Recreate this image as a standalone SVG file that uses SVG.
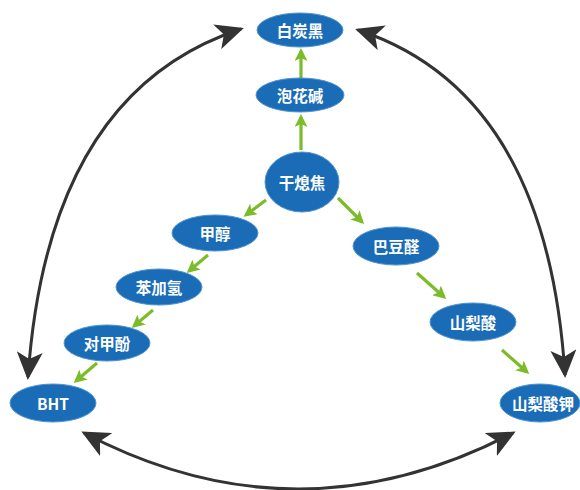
<svg xmlns="http://www.w3.org/2000/svg" width="580" height="490" viewBox="0 0 580 490">
<style>
.node ellipse{fill:#1a6cb6;stroke:#4f94d2;stroke-width:1}
.node text{fill:#fff;font-family:"Noto Sans CJK SC","Liberation Sans",sans-serif;font-size:15.5px;font-weight:bold;text-anchor:middle;dominant-baseline:central}
.g{stroke:#7cbb2a;stroke-width:3.2;fill:none;marker-end:url(#ga)}
.b{stroke:#333;stroke-width:3;fill:none;marker-start:url(#ba);marker-end:url(#ba)}
</style>
<defs>
<marker id="ga" viewBox="0 0 13 13" refX="10" refY="6.5" markerWidth="13" markerHeight="13" markerUnits="userSpaceOnUse" orient="auto">
<path d="M0,0 L13,6.5 L0,13 L3,6.5 z" fill="#7cbb2a"/>
</marker>
<marker id="ba" viewBox="0 0 28 26" refX="25" refY="13" markerWidth="28" markerHeight="26" markerUnits="userSpaceOnUse" orient="auto-start-reverse">
<path d="M0,0 L28,13 L0,26 L7,13 z" fill="#333"/>
</marker>
</defs>
<g id="connectors">
<path class="b" d="M28,377 Q48,92 241,29"/>
<path class="b" d="M358,30 Q547,92 565,375"/>
<path class="b" d="M84,433 Q298,545 513,433"/>
<path class="g" d="M301,150 L301,117"/>
<path class="g" d="M301,78 L301,51"/>
<path class="g" d="M266,200 L246,215"/>
<path class="g" d="M208,255 L189,271"/>
<path class="g" d="M153,310 L134,326"/>
<path class="g" d="M97,363 L76,381"/>
<path class="g" d="M338,198 L362,222"/>
<path class="g" d="M417,273 L444,297"/>
<path class="g" d="M502,350 L527,372"/>
</g>
<g id="n-baitanhei" class="node"><ellipse cx="300" cy="30" rx="43" ry="17"/><text x="300" y="30">白炭黑</text></g>
<g id="n-paohuajian" class="node"><ellipse cx="300" cy="95" rx="44" ry="17"/><text x="300" y="95">泡花碱</text></g>
<g id="n-ganxijiao" class="node"><ellipse cx="302" cy="182" rx="37" ry="30"/><text x="302" y="182">干熄焦</text></g>
<g id="n-jiachun" class="node"><ellipse cx="215" cy="233" rx="43" ry="18"/><text x="215" y="233">甲醇</text></g>
<g id="n-benjiaqing" class="node"><ellipse cx="159" cy="287" rx="43" ry="18"/><text x="159" y="287">苯加氢</text></g>
<g id="n-duijiafen" class="node"><ellipse cx="107" cy="343" rx="43" ry="18"/><text x="107" y="343">对甲酚</text></g>
<g id="n-bht" class="node"><ellipse cx="53" cy="403" rx="43" ry="19"/><text x="53" y="403">BHT</text></g>
<g id="n-badouquan" class="node"><ellipse cx="396" cy="246" rx="43" ry="19"/><text x="396" y="246">巴豆醛</text></g>
<g id="n-shanlisuan" class="node"><ellipse cx="473" cy="322" rx="43" ry="19"/><text x="473" y="322">山梨酸</text></g>
<g id="n-shanlisuanjia" class="node"><ellipse cx="540" cy="403" rx="40" ry="19"/><text x="543" y="403">山梨酸钾</text></g>
</svg>
